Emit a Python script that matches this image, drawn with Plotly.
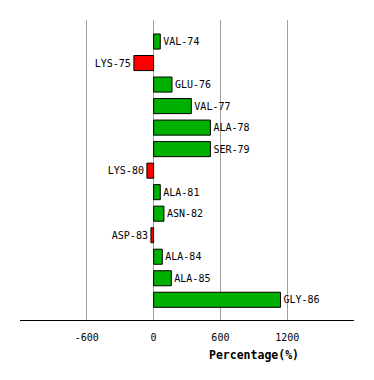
import plotly.graph_objects as go

residues = ["VAL-74", "LYS-75", "GLU-76", "VAL-77", "ALA-78", "SER-79", "LYS-80",
            "ALA-81", "ASN-82", "ASP-83", "ALA-84", "ALA-85", "GLY-86"]
percentages = [60, -177, 165, 339, 510, 510, -60, 60, 93, -24, 78, 159, 1140]
x_ticks = [-600, 0, 600, 1200]

colors = ["#00b000" if v >= 0 else "#ff0000" for v in percentages]

fig = go.Figure(go.Bar(
    y=residues, x=percentages, orientation="h",
    marker=dict(color=colors, line=dict(color="black", width=1)),
    text=residues, textposition="outside", constraintext="none",
    textfont=dict(family="DejaVu Sans Mono", size=10, color="black"),
    cliponaxis=False, width=0.7,
))

# page body has an 8px default margin, so the figure is shrunk by 8px
fig.update_layout(
    width=366, height=372,
    margin=dict(l=12, r=20, t=12, b=60),
    paper_bgcolor="white", plot_bgcolor="white",
    showlegend=False,
    font=dict(family="DejaVu Sans Mono", size=10, color="black"),
    xaxis=dict(range=[-1200, 1800], tickvals=x_ticks, ticktext=[str(t) for t in x_ticks],
               showgrid=True, gridcolor="#a0a0a0", gridwidth=1,
               zeroline=True, zerolinecolor="#a0a0a0", zerolinewidth=1,
               showline=True, linecolor="black", linewidth=1,
               ticks="outside", ticklen=8, tickcolor="rgba(0,0,0,0)",
               tickfont=dict(family="DejaVu Sans Mono", size=10), automargin=False),
    yaxis=dict(range=[12.94, -1.0], showticklabels=False, showgrid=False,
               zeroline=False, showline=False, ticks="", automargin=False),
    annotations=[dict(text="<b>Percentage(%)</b>", x=0.70, y=-(355 - 320) / 300,
                      xref="paper", yref="paper",
                      yanchor="middle", xanchor="center", showarrow=False,
                      font=dict(family="DejaVu Sans Mono", size=11.5, color="black"))],
)

fig.write_html("out.html")
